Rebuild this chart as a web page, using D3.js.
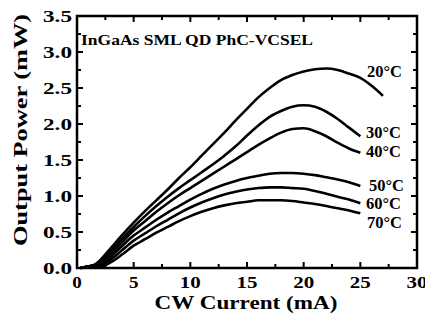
<!DOCTYPE html>
<html><head><meta charset="utf-8">
<script src="https://cdn.jsdelivr.net/npm/d3@7"></script>
<style>body{margin:0;background:#fff}svg{display:block}</style>
</head><body><svg id="c" width="425" height="322"></svg>
<script>
const currents = [0.3,1,1.5,2,2.5,3,4,5,6,7,8,9,10,11,12,13,14,15,16,17,18,19,20,21,22,23,24,25,26,27];
const p20 = [0,0.02,0.04,0.10,0.19,0.28,0.46,0.63,0.79,0.94,1.09,1.25,1.40,1.56,1.72,1.88,2.05,2.21,2.37,2.50,2.61,2.68,2.73,2.76,2.77,2.75,2.70,2.64,2.53,2.39];
const p30 = [0,0.02,0.04,0.08,0.16,0.24,0.41,0.57,0.72,0.86,0.99,1.11,1.22,1.33,1.44,1.56,1.69,1.84,1.98,2.10,2.18,2.24,2.26,2.24,2.17,2.07,1.95,1.83];
const p40 = [0,0.02,0.04,0.06,0.13,0.20,0.36,0.52,0.65,0.78,0.90,1.01,1.11,1.21,1.31,1.41,1.51,1.61,1.71,1.80,1.88,1.93,1.94,1.90,1.83,1.74,1.66,1.60];
const p50 = [0,0.02,0.03,0.04,0.09,0.16,0.31,0.45,0.56,0.67,0.77,0.86,0.95,1.03,1.10,1.16,1.21,1.25,1.28,1.31,1.32,1.32,1.31,1.29,1.26,1.23,1.19,1.14];
const p60 = [0,0.02,0.03,0.03,0.07,0.12,0.25,0.38,0.48,0.58,0.67,0.76,0.84,0.91,0.97,1.02,1.06,1.09,1.11,1.12,1.12,1.11,1.10,1.07,1.03,0.99,0.95,0.90];
const p70 = [0,0.02,0.03,0.03,0.04,0.08,0.19,0.31,0.40,0.49,0.57,0.65,0.72,0.78,0.83,0.87,0.90,0.92,0.94,0.94,0.94,0.93,0.91,0.89,0.86,0.83,0.80,0.76];
const seriesLabels = ["20°C","30°C","40°C","50°C","60°C","70°C"];
const seriesValues = [p20,p30,p40,p50,p60,p70];
const xTicks = [0,5,10,15,20,25,30];
const yTicks = [0,0.5,1,1.5,2,2.5,3,3.5];
const title = "InGaAs SML QD PhC-VCSEL";
const xTitle = "CW Current (mA)";
const yTitle = "Output Power (mW)";

const FONT = "'Times New Roman', 'Liberation Serif', Times, serif";
const svg = d3.select("#c").attr("font-family",FONT).attr("font-weight","bold");
const L=77,R=417,T=16,B=268;
const x = d3.scaleLinear().domain([0,30]).range([L,R]);
const y = d3.scaleLinear().domain([0,3.5]).range([B,T]);

const g = svg.append("g");
const xMinor = d3.range(0,30.01,2.5);
const yMinor = d3.range(0,3.51,0.25);
xMinor.forEach(v=>{
  const maj = Math.abs(v%5)<1e-6; const len = maj?6:4;
  g.append("line").attr("x1",x(v)).attr("x2",x(v)).attr("y1",B).attr("y2",B-len).attr("stroke","#000").attr("stroke-width",2);
  g.append("line").attr("x1",x(v)).attr("x2",x(v)).attr("y1",T).attr("y2",T+len).attr("stroke","#000").attr("stroke-width",2);
});
yMinor.forEach(v=>{
  const maj = Math.abs((v*2)%1)<1e-6; const len = maj?6:4;
  g.append("line").attr("y1",y(v)).attr("y2",y(v)).attr("x1",L).attr("x2",L+len).attr("stroke","#000").attr("stroke-width",2);
  g.append("line").attr("y1",y(v)).attr("y2",y(v)).attr("x1",R).attr("x2",R-len).attr("stroke","#000").attr("stroke-width",2);
});

const line = d3.line().x(d=>x(d[0])).y(d=>y(d[1])).curve(d3.curveMonotoneX);
seriesValues.forEach(vals=>{
  const pts = vals.map((v,i)=>[currents[i],v]);
  svg.append("path").attr("d",line(pts)).attr("fill","none").attr("stroke","#000").attr("stroke-width",2.6).attr("stroke-linejoin","round");
});

svg.append("rect").attr("x",L).attr("y",T).attr("width",R-L).attr("height",B-T).attr("fill","none").attr("stroke","#000").attr("stroke-width",2.5);

function fit(sel, w){ sel.attr("textLength",w).attr("lengthAdjust","spacingAndGlyphs"); return sel; }

svg.append("g").selectAll("text").data(yTicks).join("text")
  .attr("x",72).attr("y",d=>y(d)+6).attr("text-anchor","end").attr("font-size",17)
  .attr("textLength",29).attr("lengthAdjust","spacingAndGlyphs")
  .text(d=>d3.format(".1f")(d));
svg.append("g").selectAll("text").data(xTicks).join("text")
  .attr("x",d=>x(d)).attr("y",288).attr("text-anchor","middle").attr("font-size",17)
  .attr("textLength",d=>String(d).length>1?21:9.5).attr("lengthAdjust","spacingAndGlyphs")
  .text(d=>d);

fit(svg.append("text").attr("x",246).attr("y",309).attr("text-anchor","middle").attr("font-size",19).text(xTitle),183);
fit(svg.append("text").attr("transform","translate(27,130) rotate(-90)").attr("text-anchor","middle").attr("font-size",19).text(yTitle),232);
fit(svg.append("text").attr("x",81).attr("y",45).attr("font-size",15).text(title),232);

const labelPos = [[367,77],[366,138],[366,157],[369,191],[366,209],[367,228]];
seriesLabels.forEach((s,i)=>{
  fit(svg.append("text").attr("x",labelPos[i][0]).attr("y",labelPos[i][1]).attr("font-size",17).text(s),35);
});
</script></body></html>
